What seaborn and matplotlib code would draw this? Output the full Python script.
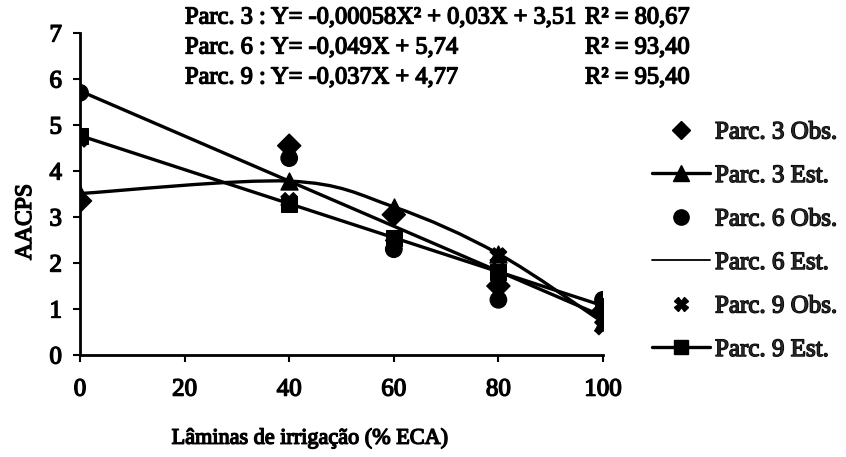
import numpy as np
import pandas as pd
import matplotlib
matplotlib.use("Agg")
import matplotlib.pyplot as plt
import matplotlib.patheffects as pe
from matplotlib.path import Path
from matplotlib.patches import PathPatch
from matplotlib.lines import Line2D
import seaborn as sns

# Irrigation levels (% ECA)
laminas = [0, 40, 60, 80, 100]

# Observed AACPS values
parc3_obs = [3.35, 4.55, 3.05, 1.50, 0.95]
parc6_obs = [5.70, 4.28, 2.30, 1.20, 1.20]
parc9_obs = [4.70, 3.35, 2.40, 2.15, 0.62]

# Estimated values from the fitted regressions
parc3_est = [3.51, 3.78, 3.22, 2.20, 0.71]
parc6_est = [5.74, 3.78, 2.80, 1.82, 0.84]
parc9_est = [4.77, 3.29, 2.55, 1.81, 1.07]

equations = [
    "Parc. 3 : Y= -0,00058X² + 0,03X + 3,51",
    "Parc. 6 : Y= -0,049X + 5,74",
    "Parc. 9 : Y= -0,037X + 4,77",
]
r2_labels = ["R² = 80,67", "R² = 93,40", "R² = 95,40"]

xticks = [0, 20, 40, 60, 80, 100]
yticks = [0, 1, 2, 3, 4, 5, 6, 7]

sns.set_theme(style="white")
plt.rcParams["font.family"] = ["Liberation Serif", "DejaVu Serif"]

FS_TICK = 18
FS_BOX = 17.6
black = "black"
heavy = [pe.withStroke(linewidth=1.0, foreground=black)]

fig = plt.figure(figsize=(8.46, 4.57), dpi=100)
ax = fig.add_axes([80 / 846, (457 - 355) / 457, 523 / 846, 322 / 457])

df_obs = pd.DataFrame({
    "x": laminas * 3,
    "y": parc3_obs + parc6_obs + parc9_obs,
    "serie": ["Parc. 3 Obs."] * 5 + ["Parc. 6 Obs."] * 5 + ["Parc. 9 Obs."] * 5,
})

lw = 2.4


def smooth_path(xs, ys):
    """Cubic Bezier through the points (spreadsheet-style smoothed line)."""
    pts = np.column_stack([xs, ys]).astype(float)
    n = len(pts)
    verts = [pts[0]]
    codes = [Path.MOVETO]
    for i in range(n - 1):
        p_prev = pts[i - 1] if i > 0 else pts[i]
        p_next = pts[i + 2] if i + 2 < n else pts[i + 1]
        c1 = pts[i] + (pts[i + 1] - p_prev) / 6.0
        c2 = pts[i + 1] - (p_next - pts[i]) / 6.0
        verts += [c1, c2, pts[i + 1]]
        codes += [Path.CURVE4] * 3
    return Path(verts, codes)


# Parc. 3 estimated: smoothed curve with triangles
ax.add_patch(PathPatch(smooth_path(laminas, parc3_est), fill=False,
                       edgecolor=black, lw=lw, zorder=2))
sns.scatterplot(x=laminas, y=parc3_est, marker="^", s=150, color=black,
                edgecolor=black, ax=ax, zorder=3, legend=False)

# Parc. 6 estimated: plain line
sns.lineplot(x=laminas, y=parc6_est, color=black, lw=lw, ax=ax,
             zorder=2, legend=False)

# Parc. 9 estimated: line with squares
sns.lineplot(x=laminas, y=parc9_est, color=black, lw=lw, marker="s",
             markersize=11.5, markeredgecolor=black, ax=ax, zorder=2,
             legend=False)

# Observed points
sns.scatterplot(data=df_obs, x="x", y="y", style="serie",
                markers={"Parc. 3 Obs.": "D", "Parc. 6 Obs.": "o",
                         "Parc. 9 Obs.": "X"},
                s=140, color=black, edgecolor=black, ax=ax, zorder=4,
                legend=False)

ax.set_xlim(0, 100)
ax.set_ylim(0, 7)
ax.set_xticks(xticks)
ax.set_yticks(yticks)
for s in ["top", "right"]:
    ax.spines[s].set_visible(False)
for s in ["left", "bottom"]:
    ax.spines[s].set_color(black)
    ax.spines[s].set_linewidth(2.0)
ax.tick_params(axis="both", which="major", direction="out", length=5,
               width=1.5, color=black, labelsize=FS_TICK, labelcolor=black)
ax.tick_params(axis="x", pad=12, bottom=True)
ax.tick_params(axis="y", pad=8, left=True)
for lab in ax.get_xticklabels() + ax.get_yticklabels():
    lab.set_path_effects(heavy)

ax.set_xlabel("Lâminas de irrigação (% ECA)", fontsize=16, color=black,
              path_effects=heavy)
ax.xaxis.set_label_coords((310 - 80) / 523, (355 - 429) / 322)
ax.set_ylabel("AACPS", fontsize=17, color=black, path_effects=heavy)
ax.yaxis.set_label_coords((36 - 80) / 523, (355 - 222) / 322)

# Regression equations
eq_y = [18, 48, 78]
for txt, r2, yy in zip(equations, r2_labels, eq_y):
    fig.text(185 / 846, 1 - yy / 457, txt, fontsize=FS_BOX, va="center",
             ha="left", color=black, path_effects=heavy)
    fig.text(585 / 846, 1 - yy / 457, r2, fontsize=FS_BOX, va="center",
             ha="left", color=black, path_effects=heavy)

handles = [
    Line2D([], [], ls="none", marker="D", ms=9, color=black),
    Line2D([], [], ls="-", lw=lw, marker="^", ms=11, color=black),
    Line2D([], [], ls="none", marker="o", ms=11, color=black),
    Line2D([], [], ls="-", lw=1.3, color=black),
    Line2D([], [], ls="none", marker="X", ms=10, color=black),
    Line2D([], [], ls="-", lw=lw, marker="s", ms=10, color=black),
]
labels = ["Parc. 3 Obs.", "Parc. 3 Est.", "Parc. 6 Obs.", "Parc. 6 Est.",
          "Parc. 9 Obs.", "Parc. 9 Est."]
leg = fig.legend(handles, labels, loc="upper left",
                 bbox_to_anchor=(652 / 846, 1 - 121 / 457), frameon=False,
                 prop={"family": "Liberation Serif", "size": 18},
                 handlelength=2.32, handletextpad=0.2, labelspacing=0.84,
                 borderaxespad=0, borderpad=0)
for t in leg.get_texts():
    t.set_path_effects(heavy)

fig.savefig("out.png", dpi=100, facecolor="white")
